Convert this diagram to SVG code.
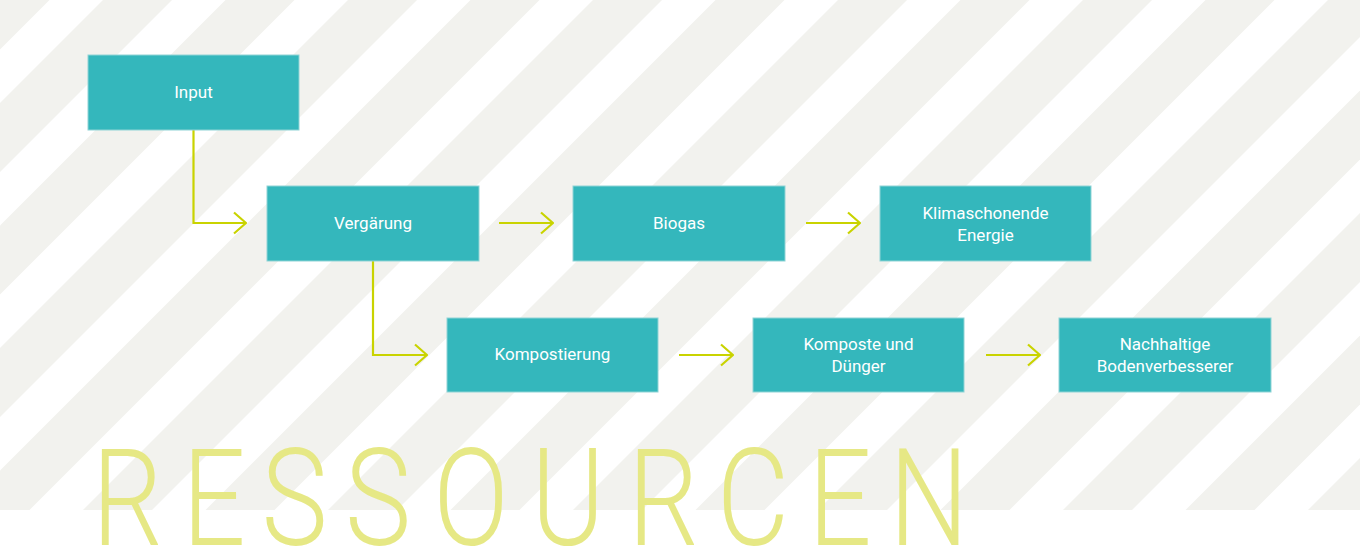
<svg xmlns="http://www.w3.org/2000/svg" width="1360" height="550" viewBox="0 0 1360 550">
<style>
.stripe{fill:#f2f2ee}
.box{fill:#34b7bc;stroke:#8fd3d5;stroke-width:1}
.lbl{font-family:Roboto,"Liberation Sans",sans-serif;font-size:17px;fill:#ffffff;text-anchor:middle}
.con{fill:none;stroke:#c9d300;stroke-width:2.2}
.big{font-family:Roboto,"Open Sans","Liberation Sans",sans-serif;font-weight:300;font-size:136px;fill:#e6e885;text-anchor:middle}
</style>
<defs>
<clipPath id="bgclip"><rect x="0" y="0" width="1360" height="510"/></clipPath>
<marker id="chev" viewBox="0 0 14 24" refX="13" refY="12" markerWidth="14" markerHeight="24" markerUnits="userSpaceOnUse" orient="auto">
<path d="M1,1.5 L13,12 L1,22.5" fill="none" stroke="#c9d300" stroke-width="2.2"/>
</marker>
</defs>
<rect width="1360" height="550" fill="#ffffff"/>
<g id="background" clip-path="url(#bgclip)">
<polygon class="stripe" points="-19.5,0 49.5,0 -460.5,510 -529.5,510"/>
<polygon class="stripe" points="103,0 172,0 -338,510 -407,510"/>
<polygon class="stripe" points="225.5,0 294.5,0 -215.5,510 -284.5,510"/>
<polygon class="stripe" points="348,0 417,0 -93,510 -162,510"/>
<polygon class="stripe" points="470.5,0 539.5,0 29.5,510 -39.5,510"/>
<polygon class="stripe" points="593,0 662,0 152,510 83,510"/>
<polygon class="stripe" points="715.5,0 784.5,0 274.5,510 205.5,510"/>
<polygon class="stripe" points="838,0 907,0 397,510 328,510"/>
<polygon class="stripe" points="960.5,0 1029.5,0 519.5,510 450.5,510"/>
<polygon class="stripe" points="1083,0 1152,0 642,510 573,510"/>
<polygon class="stripe" points="1205.5,0 1274.5,0 764.5,510 695.5,510"/>
<polygon class="stripe" points="1328,0 1397,0 887,510 818,510"/>
<polygon class="stripe" points="1450.5,0 1519.5,0 1009.5,510 940.5,510"/>
<polygon class="stripe" points="1573,0 1642,0 1132,510 1063,510"/>
<polygon class="stripe" points="1695.5,0 1764.5,0 1254.5,510 1185.5,510"/>
<polygon class="stripe" points="1818,0 1887,0 1377,510 1308,510"/>
</g>
<text id="title" class="big" transform="scale(0.82 1)" x="155.5 261 359.1 461 574.4 692.7 809.1 918.3 1024.4 1132.9" y="545">RESSOURCEN</text>
<g id="connectors">
<path class="con" d="M193.5,130 V223 H246" marker-end="url(#chev)"/>
<path class="con" d="M373,261 V355 H427" marker-end="url(#chev)"/>
<path class="con" d="M499,223 H553" marker-end="url(#chev)"/>
<path class="con" d="M806,223 H860" marker-end="url(#chev)"/>
<path class="con" d="M679,355 H733" marker-end="url(#chev)"/>
<path class="con" d="M986,355 H1040" marker-end="url(#chev)"/>
</g>
<g id="n-input">
<rect class="box" x="88" y="55" width="211" height="75"/>
<text class="lbl" x="193.5" y="97.5">Input</text>
</g>
<g id="n-vergaerung">
<rect class="box" x="267" y="186" width="212" height="75"/>
<text class="lbl" x="373" y="228.5">Vergärung</text>
</g>
<g id="n-biogas">
<rect class="box" x="573" y="186" width="212" height="75"/>
<text class="lbl" x="679" y="228.5">Biogas</text>
</g>
<g id="n-energie">
<rect class="box" x="880" y="186" width="211" height="75"/>
<text class="lbl" x="985.5" y="219">Klimaschonende</text>
<text class="lbl" x="985.5" y="241">Energie</text>
</g>
<g id="n-kompostierung">
<rect class="box" x="447" y="318" width="211" height="74"/>
<text class="lbl" x="552.5" y="360">Kompostierung</text>
</g>
<g id="n-komposte">
<rect class="box" x="753" y="318" width="211" height="74"/>
<text class="lbl" x="858.5" y="350">Komposte und</text>
<text class="lbl" x="858.5" y="372">Dünger</text>
</g>
<g id="n-boden">
<rect class="box" x="1059" y="318" width="212" height="74"/>
<text class="lbl" x="1165" y="350">Nachhaltige</text>
<text class="lbl" x="1165" y="372">Bodenverbesserer</text>
</g>
</svg>
